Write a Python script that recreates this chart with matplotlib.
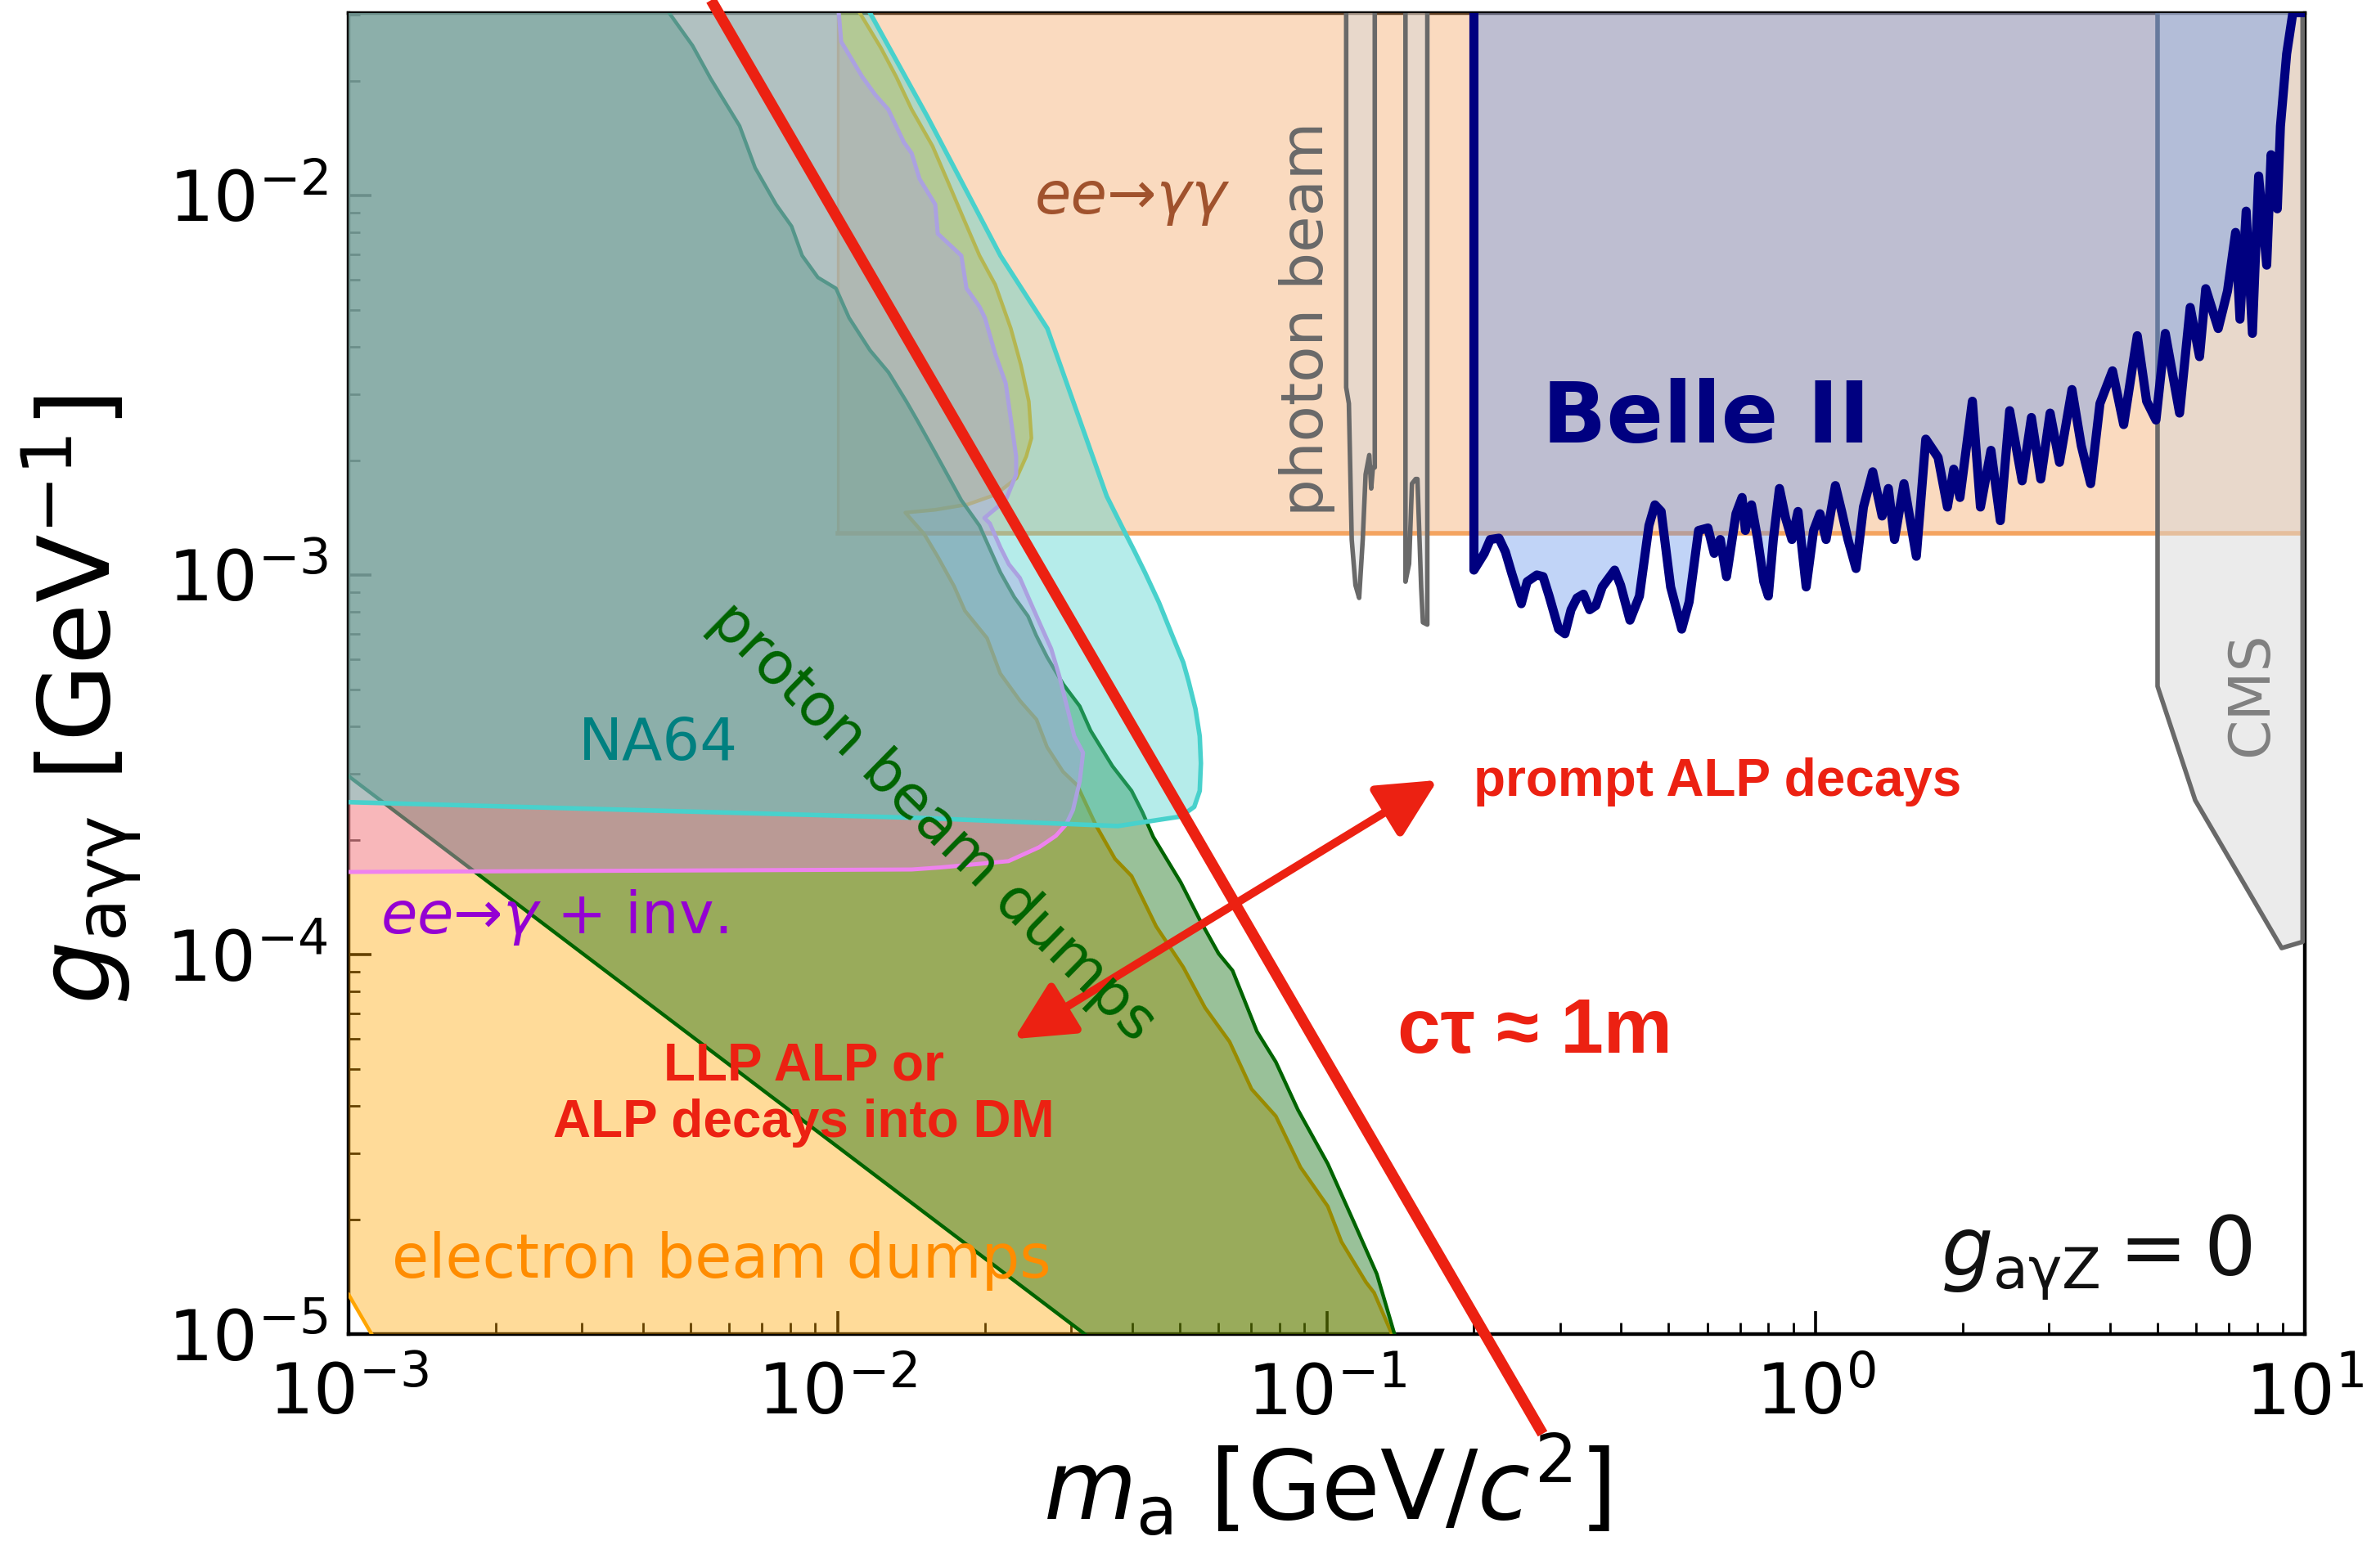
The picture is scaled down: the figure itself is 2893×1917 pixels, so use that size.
import numpy as np
import matplotlib.pyplot as plt

# ======================
# Data  (m_a in GeV, g in GeV^-1)
# ======================
X_LIM = (1e-3, 10.0)
Y_LIM = (1e-5, 3.03e-2)

# ee -> gamma gamma
EEGG_M = [1e-2, 10.0]
EEGG_G = 1.29e-3

# electron beam dumps: short lower-left edge, right edge (bottom -> top)
EBD_LOW_M = [1e-3, 1.114e-3]
EBD_LOW_G = [1.27e-5, 1e-5]
EBD_M = [0.1359, 0.1250, 0.1203, 0.1072, 0.1005, 0.0884, 0.0787, 0.0702, 0.0633, 0.0564,
         0.0509, 0.0448, 0.0399, 0.0369, 0.0338, 0.0309, 0.0289, 0.0268, 0.0255, 0.0236,
         0.0215, 0.0202, 0.0182, 0.0173, 0.0160, 0.01504, 0.01375, 0.01583, 0.01847, 0.0210,
         0.0232, 0.0243, 0.0249, 0.0246, 0.0237, 0.0226, 0.0210, 0.0195, 0.0181, 0.01683,
         0.01563, 0.01417, 0.01317, 0.01224, 0.01109]
EBD_G = [1.0e-5, 1.285e-5, 1.37e-5, 1.75e-5, 2.17e-5, 2.75e-5, 3.75e-5, 4.42e-5, 5.89e-5, 7.24e-5,
         9.26e-5, 1.186e-4, 1.61e-4, 1.787e-4, 2.18e-4, 2.79e-4, 3.03e-4, 3.52e-4, 4.16e-4, 4.66e-4,
         5.50e-4, 6.82e-4, 8.05e-4, 9.34e-4, 1.12e-3, 1.28e-3, 1.46e-3, 1.485e-3, 1.535e-3, 1.627e-3,
         1.798e-3, 2.053e-3, 2.294e-3, 2.863e-3, 3.57e-3, 4.46e-3, 5.82e-3, 6.94e-3, 8.67e-3, 1.081e-2,
         1.349e-2, 1.684e-2, 2.056e-2, 2.455e-2, 3.03e-2]

# proton beam dumps: lower-left edge, right edge (bottom -> top)
PBD_LOW_M = [1e-3, 0.032]
PBD_LOW_G = [2.95e-4, 1e-5]
PBD_M = [0.1376, 0.1266, 0.1143, 0.1005, 0.0873, 0.0787, 0.0720, 0.0642, 0.0601, 0.0550,
         0.0503, 0.0442, 0.0420, 0.0399, 0.03647, 0.0329, 0.03126, 0.02893, 0.0268, 0.02545,
         0.0245, 0.02297, 0.02152, 0.0195, 0.0179, 0.01583, 0.01453, 0.01383, 0.0127, 0.01164,
         0.01055, 0.00992, 0.00911, 0.00846, 0.00805, 0.00748, 0.00678, 0.0063, 0.0055, 0.00505,
         0.00452]
PBD_G = [1.0e-5, 1.44e-5, 1.94e-5, 2.81e-5, 3.90e-5, 5.21e-5, 6.27e-5, 9.07e-5, 1.006e-4, 1.235e-4,
         1.549e-4, 2.04e-4, 2.37e-4, 2.70e-4, 3.135e-4, 3.89e-4, 4.51e-4, 5.15e-4, 6.08e-4, 6.94e-4,
         7.79e-4, 8.74e-4, 1.015e-3, 1.348e-3, 1.574e-3, 2.10e-3, 2.56e-3, 2.86e-3, 3.42e-3, 3.91e-3,
         4.76e-3, 5.69e-3, 6.08e-3, 6.94e-3, 8.29e-3, 9.47e-3, 1.182e-2, 1.525e-2, 2.03e-2, 2.48e-2,
         3.03e-2]

# ee -> gamma + inv.
EEGI_M = [1e-3, 1.417e-2, 1.624e-2, 2.235e-2, 2.58e-2, 2.794e-2, 2.933e-2, 3.028e-2, 3.126e-2, 3.176e-2,
          3.047e-2, 2.932e-2, 2.84e-2, 2.733e-2, 2.61e-2, 2.48e-2, 2.358e-2, 2.239e-2, 2.154e-2, 2.047e-2,
          1.995e-2, 2.206e-2, 2.317e-2, 2.317e-2, 2.206e-2, 2.10e-2, 2.0e-2, 1.95e-2, 1.834e-2, 1.79e-2,
          1.602e-2, 1.583e-2, 1.47e-2, 1.417e-2, 1.366e-2, 1.269e-2, 1.194e-2, 1.122e-2, 1.017e-2, 1.005e-2]
EEGI_G = [1.65e-4, 1.675e-4, 1.696e-4, 1.762e-4, 1.916e-4, 2.055e-4, 2.203e-4, 2.403e-4, 2.86e-4, 3.40e-4,
          3.76e-4, 4.59e-4, 5.41e-4, 6.39e-4, 7.29e-4, 8.46e-4, 9.82e-4, 1.067e-3, 1.178e-3, 1.367e-3,
          1.413e-3, 1.574e-3, 1.838e-3, 2.053e-3, 3.20e-3, 3.82e-3, 4.76e-3, 5.09e-3, 5.69e-3, 6.94e-3,
          7.93e-3, 9.47e-3, 1.106e-2, 1.291e-2, 1.380e-2, 1.684e-2, 1.84e-2, 2.056e-2, 2.54e-2, 3.03e-2]

# NA64
NA64_M = [1e-3, 1.481e-2, 3.74e-2, 5.03e-2, 5.36e-2, 5.50e-2, 5.53e-2, 5.50e-2, 5.39e-2, 5.22e-2,
          5.09e-2, 4.83e-2, 4.54e-2, 4.25e-2, 4.04e-2, 3.86e-2, 3.55e-2, 2.684e-2, 2.152e-2, 1.526e-2,
          1.164e-2]
NA64_G = [2.52e-4, 2.29e-4, 2.18e-4, 2.31e-4, 2.45e-4, 2.70e-4, 3.19e-4, 3.76e-4, 4.44e-4, 5.24e-4,
          5.88e-4, 6.94e-4, 8.46e-4, 1.015e-3, 1.159e-3, 1.30e-3, 1.612e-3, 4.46e-3, 6.94e-3, 1.612e-2,
          3.03e-2]

# photon beam (two narrow spikes)
PHOT1_M = [0.1096, 0.1096, 0.1110, 0.1125, 0.1145, 0.1165, 0.1185, 0.1201, 0.1222, 0.1233, 0.1243, 0.1254, 0.1254]
PHOT1_G = [3.03e-2, 3.12e-3, 2.83e-3, 1.24e-3, 9.4e-4, 8.7e-4, 1.24e-3, 1.84e-3, 2.07e-3, 1.69e-3, 1.92e-3, 1.92e-3, 3.03e-2]
PHOT2_M = [0.1449, 0.1449, 0.1474, 0.1494, 0.1520, 0.1533, 0.1560, 0.1573, 0.1606, 0.1606]
PHOT2_G = [3.03e-2, 9.6e-4, 1.07e-3, 1.74e-3, 1.79e-3, 1.79e-3, 9.3e-4, 7.5e-4, 7.4e-4, 3.03e-2]

# CMS
CMS_M = [5.0, 5.0, 5.97, 8.97, 9.9, 9.9]
CMS_G = [3.03e-2, 5.09e-4, 2.55e-4, 1.04e-4, 1.08e-4, 3.03e-2]

# Belle II
BELLE_M = [0.200, 0.200, 0.210, 0.216, 0.225, 0.232, 0.239, 0.250, 0.257, 0.269,
           0.277, 0.285, 0.298, 0.307, 0.316, 0.325, 0.335, 0.345, 0.355, 0.366,
           0.388, 0.399, 0.417, 0.436, 0.456, 0.469, 0.483, 0.505, 0.532, 0.551,
           0.576, 0.602, 0.620, 0.638, 0.657, 0.687, 0.707, 0.718, 0.739, 0.761,
           0.783, 0.800, 0.819, 0.843, 0.868, 0.894, 0.920, 0.956, 0.990, 1.020,
           1.050, 1.097, 1.130, 1.164, 1.209, 1.252, 1.308, 1.367, 1.408, 1.449,
           1.515, 1.606, 1.679, 1.779, 1.859, 1.915, 1.972, 2.091, 2.172, 2.282,
           2.385, 2.492, 2.643, 2.761, 2.885, 3.015, 3.151, 3.342, 3.492, 3.649,
           3.813, 4.045, 4.263, 4.545, 4.749, 4.963, 5.186, 5.547, 5.831, 6.093,
           6.274, 6.653, 6.951, 7.221, 7.371, 7.590, 7.816, 8.049, 8.360, 8.533,
           8.788, 8.918, 9.183, 9.456, 9.822]
BELLE_G = [3.03e-2, 1.03e-3, 1.14e-3, 1.24e-3, 1.25e-3, 1.15e-3, 1.01e-3, 8.4e-4, 9.6e-4, 1.0e-3,
           9.9e-4, 8.8e-4, 7.2e-4, 7.0e-4, 8.1e-4, 8.7e-4, 8.9e-4, 8.1e-4, 8.3e-4, 9.3e-4,
           1.03e-3, 9.4e-4, 7.6e-4, 8.8e-4, 1.35e-3, 1.53e-3, 1.47e-3, 9.3e-4, 7.2e-4, 8.5e-4,
           1.31e-3, 1.33e-3, 1.14e-3, 1.24e-3, 9.9e-4, 1.45e-3, 1.6e-3, 1.31e-3, 1.53e-3, 1.24e-3,
           9.6e-4, 8.8e-4, 1.24e-3, 1.69e-3, 1.41e-3, 1.24e-3, 1.47e-3, 9.3e-4, 1.31e-3, 1.45e-3,
           1.24e-3, 1.72e-3, 1.47e-3, 1.24e-3, 1.04e-3, 1.51e-3, 1.87e-3, 1.43e-3, 1.69e-3, 1.24e-3,
           1.74e-3, 1.12e-3, 2.28e-3, 2.04e-3, 1.51e-3, 1.9e-3, 1.6e-3, 2.87e-3, 1.51e-3, 2.13e-3,
           1.39e-3, 2.71e-3, 1.77e-3, 2.6e-3, 1.79e-3, 2.67e-3, 1.98e-3, 3.08e-3, 2.19e-3, 1.74e-3,
           2.83e-3, 3.45e-3, 2.49e-3, 4.27e-3, 2.87e-3, 2.56e-3, 4.33e-3, 2.67e-3, 5.07e-3, 3.76e-3,
           5.68e-3, 4.46e-3, 5.6e-3, 7.99e-3, 4.72e-3, 9.09e-3, 4.33e-3, 1.125e-2, 6.55e-3, 1.28e-2,
           9.22e-3, 1.52e-2, 2.36e-2, 3.03e-2, 3.03e-2]

# c tau ~ 1 m line and arrow
CT_M = [5.51e-3, 0.2764]
CT_G = [3.27e-2, 5.46e-6]
ARROW_M = [2.293e-2, 0.1685]
ARROW_G = [5.99e-5, 2.88e-4]

RED = '#ec2112'
BOLD_FONT = ['Liberation Sans', 'DejaVu Sans']

# ======================
# Plot
# ======================
fig = plt.figure(figsize=(14.465, 9.585), dpi=200)
ax = fig.add_axes([0.1473, 0.1492, 0.8264, 0.8427])
ax.set_xscale('log')
ax.set_yscale('log')
ax.set_xlim(*X_LIM)
ax.set_ylim(*Y_LIM)
top = Y_LIM[1]
left = X_LIM[0]

# ee -> gamma gamma
ax.fill([EEGG_M[0], EEGG_M[1], EEGG_M[1], EEGG_M[0]], [EEGG_G, EEGG_G, top, top],
        color='sandybrown', alpha=0.4, lw=0, zorder=3)
ax.plot(EEGG_M, [EEGG_G, EEGG_G], color='sandybrown', lw=2.0, zorder=3)
ax.plot([EEGG_M[0], EEGG_M[0]], [EEGG_G, top], color='sandybrown', lw=1.2, zorder=3)

# electron beam dumps
ax.fill(EBD_LOW_M + EBD_M + [left], EBD_LOW_G + EBD_G + [top],
        color='orange', alpha=0.4, lw=0, zorder=4)
ax.plot(EBD_LOW_M, EBD_LOW_G, color='orange', lw=1.6, zorder=4)
ax.plot(EBD_M, EBD_G, color='orange', lw=1.6, zorder=4)

# proton beam dumps
ax.fill(PBD_LOW_M + PBD_M + [left], PBD_LOW_G + PBD_G + [top],
        color='darkgreen', alpha=0.4, lw=0, zorder=5)
ax.plot(PBD_LOW_M, PBD_LOW_G, color='darkgreen', lw=1.6, zorder=5)
ax.plot(PBD_M, PBD_G, color='darkgreen', lw=1.6, zorder=5)

# ee -> gamma + inv.
ax.fill(EEGI_M + [left], EEGI_G + [top], color='violet', alpha=0.4, lw=0, zorder=6)
ax.plot(EEGI_M, EEGI_G, color='violet', lw=1.8, zorder=6)

# NA64
ax.fill(NA64_M + [left], NA64_G + [top], color='mediumturquoise', alpha=0.4, lw=0, zorder=7)
ax.plot(NA64_M, NA64_G, color='mediumturquoise', lw=2.0, zorder=7)

# photon beam, CMS
for mm, gg in [(PHOT1_M, PHOT1_G), (PHOT2_M, PHOT2_G), (CMS_M, CMS_G)]:
    ax.fill(mm, gg, color='#d8d8d8', alpha=0.5, lw=0, zorder=8)
    ax.plot(mm, gg, color='dimgray', lw=2.0, zorder=8)

# Belle II
ax.fill(BELLE_M, BELLE_G, color='cornflowerblue', alpha=0.4, lw=0, zorder=9)
ax.plot(BELLE_M, BELLE_G, color='navy', lw=4.0, zorder=9, solid_joinstyle='round')

# c tau line + double arrow
ax.plot(CT_M, CT_G, color=RED, lw=4.8, zorder=10, clip_on=False, solid_capstyle='butt')
ax.annotate('', xy=(ARROW_M[1], ARROW_G[1]), xytext=(ARROW_M[0], ARROW_G[0]),
            arrowprops=dict(arrowstyle='<|-|>,head_length=1.1,head_width=0.55', color=RED,
                            lw=3.6, mutation_scale=20, shrinkA=0, shrinkB=0),
            zorder=10)

# labels
ax.text(0.0397, 9.85e-3, 'ee→γγ', color='sienna', fontsize=26, style='italic',
        ha='center', va='center', zorder=11)
ax.text(0.0912, 4.73e-3, 'photon beam', color='dimgray', fontsize=26, rotation=90,
        ha='center', va='center', zorder=11)
ax.text(0.597, 2.57e-3, 'Belle II', color='navy', fontsize=37, fontweight='bold',
        ha='center', va='center', zorder=11)
ax.text(7.78, 4.84e-4, 'CMS', color='gray', fontsize=25, rotation=90,
        ha='center', va='center', zorder=11)
ax.text(4.29e-3, 3.58e-4, 'NA64', color='teal', fontsize=26,
        ha='center', va='center', zorder=11)
ax.text(1.563e-2, 2.23e-4, 'proton beam dumps', color='darkgreen', fontsize=26,
        rotation=-44.5, rotation_mode='anchor', ha='center', va='center', zorder=11)
ax.text(2.63e-3, 1.25e-4, r'$ee$→$\gamma$ + inv.', color='darkviolet', fontsize=26,
        ha='center', va='center', zorder=11)
ax.text(5.79e-3, 1.56e-5, 'electron beam dumps', color='darkorange', fontsize=26.5,
        ha='center', va='center', zorder=11)
ax.text(8.51e-3, 4.28e-5, 'LLP ALP or\nALP decays into DM', color=RED, fontsize=23,
        fontweight='bold', family=BOLD_FONT, ha='center', va='center',
        multialignment='center', zorder=11)
ax.text(0.63, 2.85e-4, 'prompt ALP decays', color=RED, fontsize=23, fontweight='bold',
        family=BOLD_FONT, ha='center', va='center', zorder=11)
ax.text(0.266, 6.24e-5, 'cτ ≈ 1m', color=RED, fontsize=34, fontweight='bold',
        family=BOLD_FONT, ha='center', va='center', zorder=11)
ax.text(7.79, 1.43e-5, r'$g_{\mathrm{a\gamma Z}} = 0$', color='#111111', fontsize=36,
        ha='right', va='baseline', zorder=11)

ax.set_xlabel(r'$m_{\mathrm{a}}$ [GeV/$c^2$]', fontsize=42, labelpad=2)
ax.set_ylabel(r'$g_{\mathrm{a\gamma\gamma}}$ [GeV$^{-1}$]', fontsize=44)
ax.yaxis.set_label_coords(-0.1045, 0.48)

ax.tick_params(which='both', direction='in', top=False, right=False, labelsize=31)
ax.tick_params(which='major', length=10, width=1.3)
ax.tick_params(axis='x', which='major', pad=12)
ax.tick_params(axis='y', which='major', pad=9)
ax.tick_params(which='minor', length=5, width=1.0)
for s in ax.spines.values():
    s.set_linewidth(1.6)

fig.savefig('out.png', dpi=200)
